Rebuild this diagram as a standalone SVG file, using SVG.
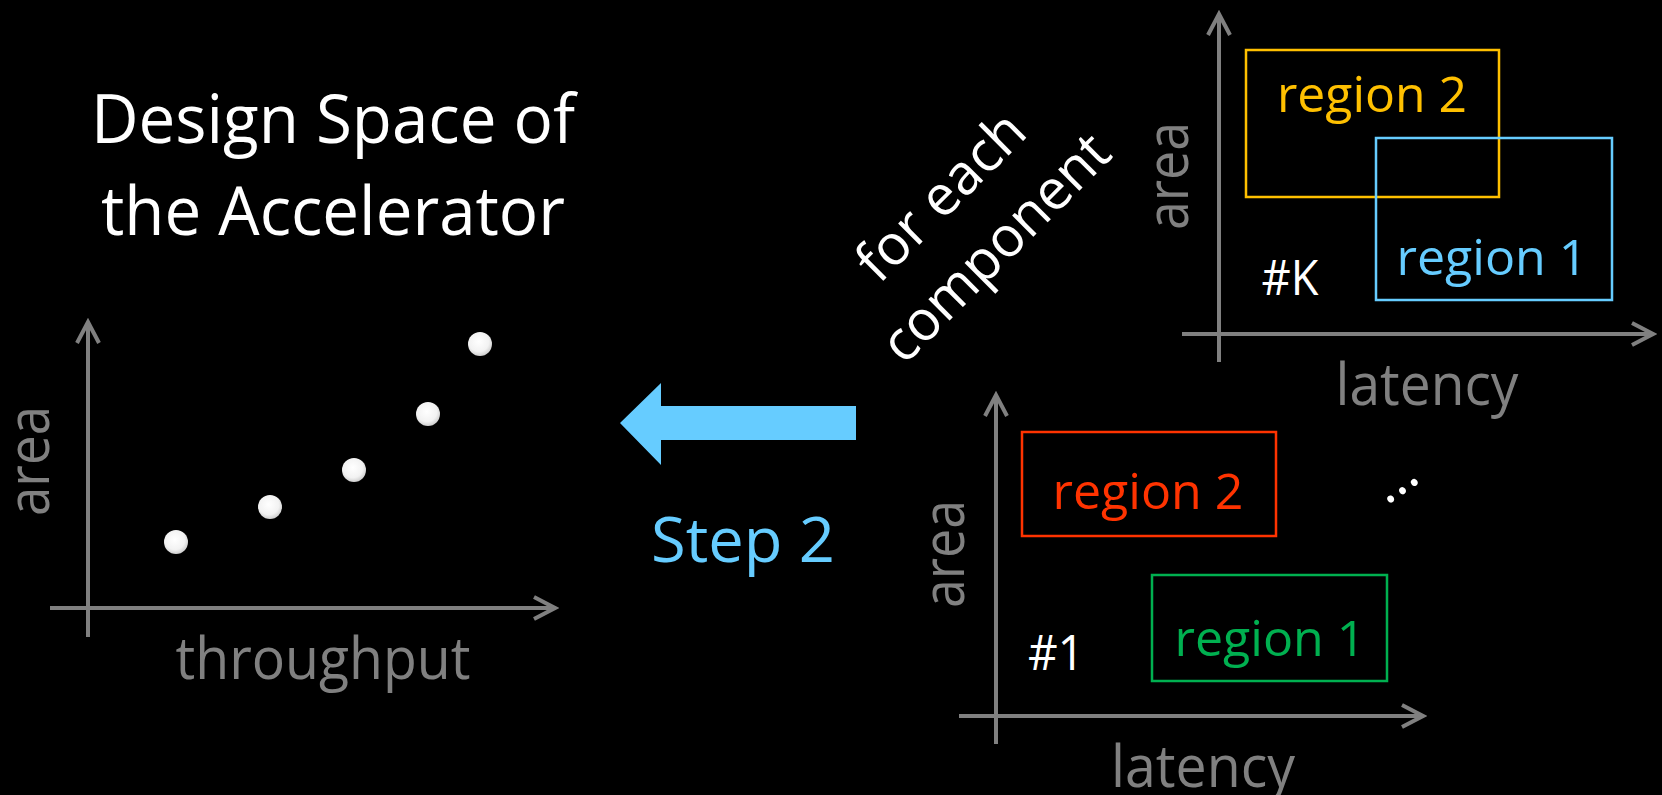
<svg xmlns="http://www.w3.org/2000/svg" width="1662" height="795" viewBox="0 0 1662 795">
  <defs>
    <style>
      text { font-family: "Open Sans", "Noto Sans", "Liberation Sans", sans-serif; }
      .axis { stroke: #808080; stroke-width: 4; fill: none; }
      .axlbl { fill: #808080; font-size: 58px; text-anchor: middle; }
      .white { fill: #ffffff; }
      .reg { font-size: 50px; text-anchor: middle; }
      .box { fill: none; stroke-width: 2.5; }
      .dot { fill: url(#dotgrad); }
    </style>
    <marker id="chev" markerUnits="userSpaceOnUse" viewBox="-26 -14 30 28" refX="0" refY="0" markerWidth="30" markerHeight="28" orient="auto">
      <path d="M-21,-11 L0,0 L-21,11" fill="none" stroke="#808080" stroke-width="4"/>
    </marker>
    <radialGradient id="dotgrad" cx="0.45" cy="0.4" r="0.6">
      <stop offset="0" stop-color="#ffffff"/>
      <stop offset="0.7" stop-color="#f2f2f2"/>
      <stop offset="1" stop-color="#cfcfcf"/>
    </radialGradient>
  </defs>
  <rect x="0" y="0" width="1662" height="795" fill="#000000"/>

  <g id="title">
    <text class="white" x="333" y="143" font-size="68" text-anchor="middle" textLength="484" lengthAdjust="spacingAndGlyphs">Design Space of</text>
    <text class="white" x="333" y="235" font-size="68" text-anchor="middle" textLength="464" lengthAdjust="spacingAndGlyphs">the Accelerator</text>
  </g>

  <g id="chart-accelerator">
    <line class="axis" x1="88" y1="637" x2="88" y2="322" marker-end="url(#chev)"/>
    <line class="axis" x1="50" y1="608" x2="555" y2="608" marker-end="url(#chev)"/>
    <text class="axlbl" transform="translate(49,461) rotate(-90)" x="0" y="0" textLength="110" lengthAdjust="spacingAndGlyphs">area</text>
    <text class="axlbl" x="323" y="679" textLength="295" lengthAdjust="spacingAndGlyphs">throughput</text>
    <circle class="dot" cx="176" cy="542" r="12"/>
    <circle class="dot" cx="270" cy="507" r="12"/>
    <circle class="dot" cx="354" cy="470" r="12"/>
    <circle class="dot" cx="428" cy="414" r="12"/>
    <circle class="dot" cx="480" cy="344" r="12"/>
  </g>

  <g id="step2-label">
    <text x="743" y="562" font-size="63" fill="#66ccff" text-anchor="middle" textLength="184" lengthAdjust="spacingAndGlyphs">Step 2</text>
  </g>

  <g id="for-each-label" transform="translate(980,232) rotate(-45)">
    <text class="white" x="-2.5" y="-34" font-size="56" text-anchor="middle" textLength="213" lengthAdjust="spacingAndGlyphs">for each</text>
    <text class="white" x="0" y="41" font-size="56" text-anchor="middle" textLength="297" lengthAdjust="spacingAndGlyphs">component</text>
  </g>

  <g id="chart-component-K">
    <line class="axis" x1="1219" y1="362" x2="1219" y2="14" marker-end="url(#chev)"/>
    <line class="axis" x1="1182" y1="334" x2="1653" y2="334" marker-end="url(#chev)"/>
    <text class="axlbl" transform="translate(1188,176) rotate(-90)" x="0" y="0" textLength="108" lengthAdjust="spacingAndGlyphs">area</text>
    <text class="axlbl" x="1427" y="405" textLength="183" lengthAdjust="spacingAndGlyphs">latency</text>
    <rect class="box" x="1246" y="50" width="253" height="147" stroke="#ffc000"/>
    <rect class="box" x="1376" y="138" width="236" height="162" stroke="#66ccff"/>
    <text class="reg" x="1372" y="112" fill="#ffc000" textLength="190" lengthAdjust="spacingAndGlyphs">region 2</text>
    <text class="reg" x="1492" y="275" fill="#66ccff" textLength="191" lengthAdjust="spacingAndGlyphs">region 1</text>
    <text class="reg white" x="1290" y="295" textLength="57" lengthAdjust="spacingAndGlyphs">#K</text>
  </g>

  <g id="chart-component-1">
    <line class="axis" x1="996" y1="744" x2="996" y2="395" marker-end="url(#chev)"/>
    <line class="axis" x1="959" y1="716" x2="1423" y2="716" marker-end="url(#chev)"/>
    <text class="axlbl" transform="translate(964,554) rotate(-90)" x="0" y="0" textLength="108" lengthAdjust="spacingAndGlyphs">area</text>
    <text class="axlbl" x="1203" y="787" textLength="184" lengthAdjust="spacingAndGlyphs">latency</text>
    <rect class="box" x="1022" y="432" width="254" height="104" stroke="#ff3300"/>
    <rect class="box" x="1152" y="575" width="235" height="106" stroke="#00b050"/>
    <text class="reg" x="1148" y="509" fill="#ff3300" textLength="191" lengthAdjust="spacingAndGlyphs">region 2</text>
    <text class="reg" x="1270" y="656" fill="#00b050" textLength="191" lengthAdjust="spacingAndGlyphs">region 1</text>
    <text class="reg white" x="1056" y="670" textLength="56" lengthAdjust="spacingAndGlyphs">#1</text>
  </g>

  <g id="ellipsis">
    <text class="white" transform="translate(1402,490) rotate(-35)" x="0" y="3.6" font-size="56" text-anchor="middle">…</text>
  </g>

  <g id="connectors">
    <polygon points="620,423 661,383 661,406 856,406 856,440 661,440 661,465" fill="#66ccff"/>
  </g>
</svg>
